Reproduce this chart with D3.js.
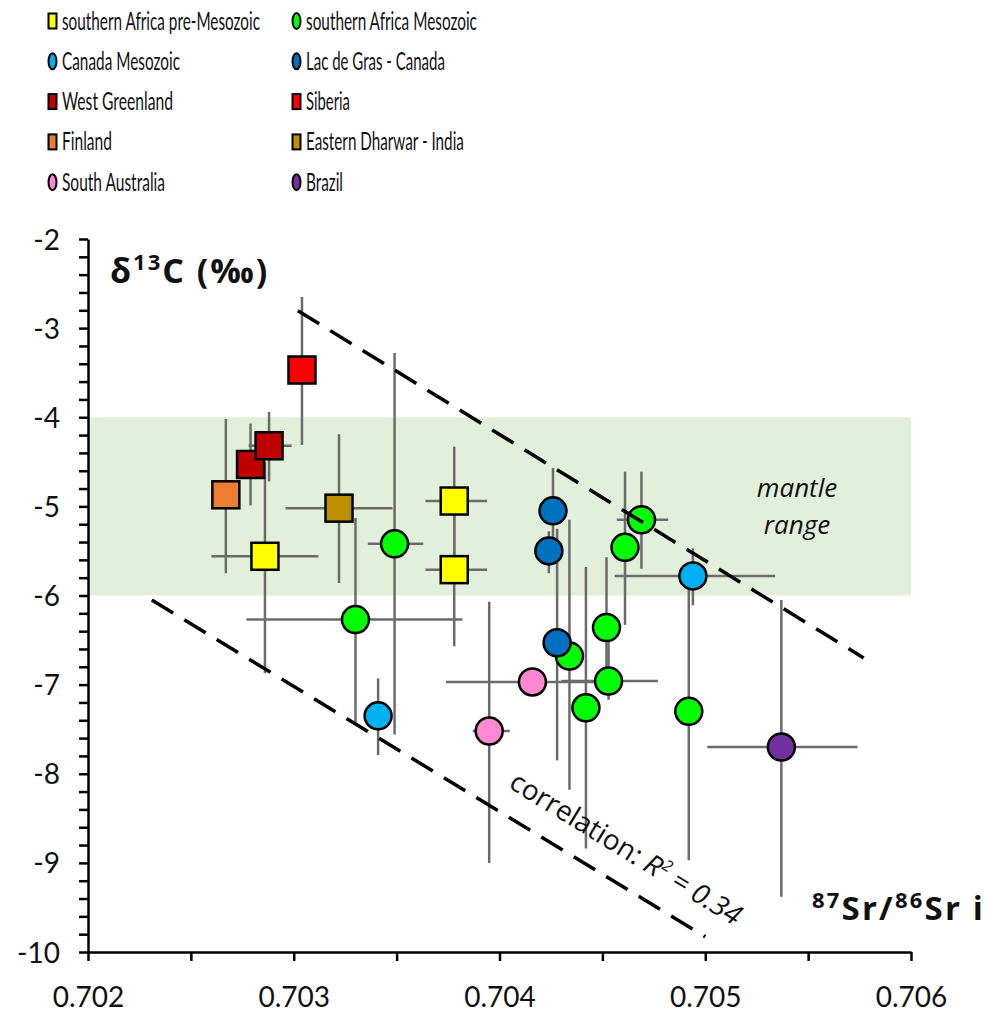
<!DOCTYPE html>
<html>
<head>
<meta charset="utf-8">
<script src="https://cdn.jsdelivr.net/npm/d3@7"></script>
<style>
  body { margin: 0; background: #fff; }
  svg { display: block; }
</style>
</head>
<body>
<div id="chart"></div>
<script>
// each point: [x, y, xLow, xHigh, yLow, yHigh]  (null = no error bar)
const africaMesozoic = [
  [0.70349, -5.42, 0.70336, 0.70363, -3.28, -7.56],
  [0.70330, -6.27, 0.70277, 0.70382, -5.13, -7.43],
  [0.70469, -5.15, 0.70457, 0.70482, -4.61, -5.70],
  [0.70461, -5.46, null, null, -4.61, -6.33],
  [0.70452, -6.36, null, null, -5.57, -6.90],
  [0.70453, -6.96, 0.70430, 0.70477, -6.50, -7.17],
  [0.70442, -7.26, null, null, -5.68, -8.84],
  [0.70434, -6.68, null, null, -5.15, -8.18],
  [0.70492, -7.30, null, null, -5.90, -8.97]
];
const africaPreMesozoic = [
  [0.70286, -5.56, 0.70260, 0.70312, -4.50, -6.87],
  [0.70378, -4.94, 0.70364, 0.70394, -4.33, -5.60],
  [0.70378, -5.71, 0.70364, 0.70394, -5.00, -6.57]
];
const canadaMesozoic = [
  [0.70341, -7.35, null, null, -6.93, -7.79],
  [0.70494, -5.78, 0.70456, 0.70534, -5.47, -6.11]
];
const lacDeGras = [
  [0.70426, -5.05, null, null, -4.57, -5.40],
  [0.70424, -5.50, null, null, -5.28, -5.75],
  [0.70428, -6.53, null, null, -5.25, -7.85]
];
const westGreenland = [
  [0.70279, -4.53, null, null, -4.07, -4.99],
  [0.70288, -4.32, 0.70278, 0.70299, -3.94, -4.72]
];
const siberia = [[0.70304, -3.47, null, null, -2.65, -4.31]];
const finland = [[0.70267, -4.87, null, null, -4.02, -5.75]];
const eastDharwar = [[0.70322, -5.02, 0.70296, 0.70348, -4.19, -5.86]];
const southAustralia = [
  [0.70416, -6.97, 0.70374, 0.70460, null, null],
  [0.70395, -7.52, 0.70387, 0.70405, -6.07, -9.00]
];
const brazil = [[0.70537, -7.70, 0.70501, 0.70574, -6.05, -9.38]];

// legend order (row by row, two columns)
const legendNames = [
  'southern Africa pre-Mesozoic', 'southern Africa Mesozoic',
  'Canada Mesozoic', 'Lac de Gras - Canada',
  'West Greenland', 'Siberia',
  'Finland', 'Eastern Dharwar - India',
  'South Australia', 'Brazil'
];
const legendTextWidths = [198, 171, 118, 139, 111, 44, 50, 158, 103, 37];

const mantleRange = [-6, -4];
const upperBound = [[0.70302, -2.805], [0.70577, -6.70]];
const lowerBound = [[0.70231, -6.05], [0.70500, -9.83]];
const xTicks = d3.range(0, 9).map(i => 0.702 + i * 0.0005);
const yTicks = d3.range(0, 41).map(i => -10 + i * 0.2);

const series = [
  { name: 'southern Africa Mesozoic', shape: 'circle', color: '#00ff00', points: africaMesozoic },
  { name: 'southern Africa pre-Mesozoic', shape: 'square', color: '#ffff00', points: africaPreMesozoic },
  { name: 'Canada Mesozoic', shape: 'circle', color: '#00b0f0', points: canadaMesozoic },
  { name: 'Lac de Gras - Canada', shape: 'circle', color: '#0070c0', points: lacDeGras },
  { name: 'West Greenland', shape: 'square', color: '#c00000', points: westGreenland },
  { name: 'Siberia', shape: 'square', color: '#ff0000', points: siberia },
  { name: 'Finland', shape: 'square', color: '#ed7d31', points: finland },
  { name: 'Eastern Dharwar - India', shape: 'square', color: '#bf8f00', points: eastDharwar },
  { name: 'South Australia', shape: 'circle', color: '#ff88d0', points: southAustralia },
  { name: 'Brazil', shape: 'circle', color: '#7030a0', points: brazil }
];
const byName = new Map(series.map(s => [s.name, s]));

const W = 1001, H = 1024;
const svg = d3.select('#chart').append('svg').attr('width', W).attr('height', H);

const x = d3.scaleLinear().domain([0.702, 0.706]).range([88, 911]);
const y = d3.scaleLinear().domain([-10, -2]).range([952, 239]);

// mantle band
svg.append('rect')
  .attr('x', x(0.702)).attr('width', x(0.706) - x(0.702))
  .attr('y', y(mantleRange[1])).attr('height', y(mantleRange[0]) - y(mantleRange[1]))
  .attr('fill', '#e2efda');

const mantle = svg.append('text')
  .attr('text-anchor', 'middle')
  .style('font', 'italic 26px "Open Sans"')
  .attr('fill', '#111');
mantle.append('tspan').attr('x', 797).attr('y', 497).text('mantle');
mantle.append('tspan').attr('x', 797).attr('y', 534).text('range');

// axes
const xAxis = d3.axisBottom(x).tickValues(xTicks).tickSize(9).tickSizeOuter(0)
  .tickFormat(d => Math.abs(d * 1000 - Math.round(d * 1000)) < 1e-6 ? d3.format('.3f')(d) : '');
const yAxis = d3.axisLeft(y).tickValues(yTicks).tickSize(9).tickSizeOuter(0)
  .tickFormat(d => Math.abs(d - Math.round(d)) < 1e-6 ? String(Math.round(d)) : '');

const gx = svg.append('g').attr('transform', `translate(0,${y(-10)})`).call(xAxis);
const gy = svg.append('g').attr('transform', `translate(${x(0.702)},0)`).call(yAxis);
[gx, gy].forEach(g => {
  g.select('.domain').attr('stroke', '#000').attr('stroke-width', 2.5);
  g.selectAll('.tick line').attr('stroke', '#000').attr('stroke-width', 2.5);
  g.selectAll('.tick text').attr('fill', '#111')
    .style('font-family', 'Lato').style('font-size', '28px');
});
gx.selectAll('.tick text').attr('dy', null).attr('y', 55);
gy.selectAll('.tick text').attr('x', -28).attr('dy', '0.36em');

// error bars
const bars = svg.append('g').attr('stroke', '#6b6b6b').attr('stroke-width', 2.5);
series.forEach(s => s.points.forEach(p => {
  if (p[2] != null) bars.append('line')
    .attr('x1', x(p[2])).attr('x2', x(p[3])).attr('y1', y(p[1])).attr('y2', y(p[1]));
  if (p[4] != null) bars.append('line')
    .attr('x1', x(p[0])).attr('x2', x(p[0])).attr('y1', y(p[4])).attr('y2', y(p[5]));
}));

// markers
const marks = svg.append('g').attr('stroke', '#000').attr('stroke-width', 2.5);
series.forEach(s => {
  const sel = marks.selectAll(null).data(s.points);
  if (s.shape === 'circle') {
    sel.enter().append('circle')
      .attr('cx', d => x(d[0])).attr('cy', d => y(d[1])).attr('r', 13.5)
      .attr('fill', s.color);
  } else {
    sel.enter().append('rect')
      .attr('x', d => x(d[0]) - 13.5).attr('y', d => y(d[1]) - 13.5)
      .attr('width', 27).attr('height', 27)
      .attr('fill', s.color);
  }
});

// trend envelope lines
const line = d3.line().x(d => x(d[0])).y(d => y(d[1]));
[upperBound, lowerBound].forEach(b => {
  svg.append('path').attr('d', line(b))
    .attr('fill', 'none').attr('stroke', '#000')
    .attr('stroke-width', 3.5).attr('stroke-dasharray', '25,13');
});

const ang = Math.atan2(y(upperBound[1][1]) - y(upperBound[0][1]),
                       x(upperBound[1][0]) - x(upperBound[0][0])) * 180 / Math.PI;
const corr = svg.append('text')
  .attr('transform', `translate(${x(0.70459)},${y(-8.93)}) rotate(${ang})`)
  .attr('text-anchor', 'middle')
  .style('font-family', '"Open Sans"').style('font-size', '28px').attr('fill', '#111');
corr.append('tspan').text('correlation: ');
corr.append('tspan').style('font-style', 'italic').text('R');
corr.append('tspan').style('font-style', 'italic').style('font-size', '16px').attr('dy', -11).text('2');
corr.append('tspan').style('font-style', 'italic').attr('dy', 11).text(' = 0.34');

// axis titles
const yt = svg.append('text').attr('x', 110).attr('y', 283)
  .style('font', 'bold 34px "Open Sans"').style('letter-spacing', '2px').attr('fill', '#111');
yt.append('tspan').text('δ');
yt.append('tspan').style('font-size', '22px').attr('dy', -13).text('13');
yt.append('tspan').attr('dy', 13).text('C (‰)');

const xt = svg.append('text').attr('x', 812).attr('y', 920)
  .style('font', 'bold 33px "Open Sans"').style('letter-spacing', '2.2px').attr('fill', '#111');
xt.append('tspan').style('font-size', '22px').attr('dy', -12).text('87');
xt.append('tspan').attr('dy', 12).text('Sr/');
xt.append('tspan').style('font-size', '22px').attr('dy', -12).text('86');
xt.append('tspan').attr('dy', 12).text('Sr i');

// legend (text squeezed horizontally, as in the source figure)
const legend = svg.append('g');
legendNames.forEach((name, i) => {
  const s = byName.get(name);
  const col = i % 2, row = Math.floor(i / 2);
  const cx = col === 0 ? 52.5 : 296.5;
  const cy = 21 + row * 40.3;
  if (s.shape === 'circle') {
    legend.append('ellipse').attr('cx', cx).attr('cy', cy).attr('rx', 4).attr('ry', 8)
      .attr('fill', s.color).attr('stroke', '#000').attr('stroke-width', 2);
  } else {
    legend.append('rect').attr('x', cx - 4).attr('y', cy - 7.5).attr('width', 8).attr('height', 15)
      .attr('fill', s.color).attr('stroke', '#000').attr('stroke-width', 2);
  }
  const t = legend.append('text')
    .style('font-family', 'Lato').style('font-size', '25px').attr('fill', '#111')
    .text(name);
  const k = legendTextWidths[i] / t.node().getComputedTextLength();
  t.attr('transform', `translate(${cx + 9.5},${cy + 8.5}) scale(${k},1)`);
});
</script>
</body>
</html>
